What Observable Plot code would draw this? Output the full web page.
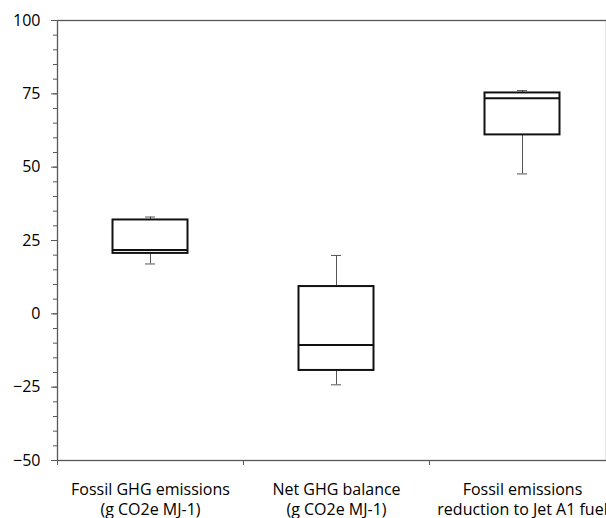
<!DOCTYPE html>
<html>
<head>
<meta charset="utf-8">
<script src="https://cdn.jsdelivr.net/npm/d3@7"></script>
<script src="https://cdn.jsdelivr.net/npm/@observablehq/plot@0.6"></script>
<style>
  html, body { margin: 0; padding: 0; background: #fff; overflow: hidden; }
  #chart svg { overflow: hidden; }
</style>
</head>
<body>
<div id="chart"></div>
<script>
const categories = [
  "Fossil GHG emissions\n(g CO2e MJ-1)",
  "Net GHG balance\n(g CO2e MJ-1)",
  "Fossil emissions\nreduction to Jet A1 fuel"
];
const whiskerMin = [17.0, -24.2, 47.7];
const quartile1 = [20.6, -19.3, 61.0];
const medians = [21.8, -10.6, 73.5];
const quartile3 = [32.0, 9.3, 75.3];
const whiskerMax = [33.0, 19.9, 76.1];
const majorTicks = [-50, -25, 0, 25, 50, 75, 100];
const minorTicks = d3.range(-50, 101, 5);

const data = categories.map((c, i) => ({
  cat: c, lo: whiskerMin[i], q1: quartile1[i], med: medians[i], q3: quartile3[i], hi: whiskerMax[i]
}));

const band = 186;
const boxInset = (band - 75) / 2;
const capInset = (band - 10) / 2;
const font = "'Open Sans', Lato, sans-serif";

const chart = Plot.plot({
  width: 606,
  height: 518,
  marginTop: 20,
  marginBottom: 58,
  marginLeft: 57,
  marginRight: 0,
  style: { fontFamily: font, fontSize: "16px", color: "#000", background: "#fff" },
  x: { domain: categories, range: [57, 57 + 3 * band], padding: 0, label: null },
  y: { domain: [-50, 100], label: null },
  marks: [
    Plot.axisY(minorTicks, { tickSize: 4, tickFormat: () => "", stroke: "#595959", label: null }),
    Plot.axisY(majorTicks, { tickSize: 6, tickPadding: 11, fontSize: 16, stroke: "#595959", fill: "#000", label: null }),
    Plot.axisX({ tickSize: 0, tickPadding: 20, fontSize: 16, lineHeight: 1.25, fill: "#000", label: null }),
    Plot.axisX({ tickSize: 5, tickFormat: () => "", dx: -band / 2, stroke: "#595959", label: null }),
    Plot.frame({ stroke: "#595959", strokeWidth: 1.3 }),
    Plot.ruleX(data, { x: "cat", y1: "lo", y2: "hi", stroke: "#555", strokeWidth: 1 }),
    Plot.tickY(data, { x: "cat", y: "lo", insetLeft: capInset, insetRight: capInset, stroke: "#555", strokeWidth: 1 }),
    Plot.tickY(data, { x: "cat", y: "hi", insetLeft: capInset, insetRight: capInset, stroke: "#555", strokeWidth: 1 }),
    Plot.barY(data, { x: "cat", y1: "q1", y2: "q3", insetLeft: boxInset, insetRight: boxInset, fill: "#fff", stroke: "#111", strokeWidth: 2 }),
    Plot.tickY(data, { x: "cat", y: "med", insetLeft: boxInset, insetRight: boxInset, stroke: "#111", strokeWidth: 2 })
  ]
});
document.getElementById("chart").appendChild(chart);
</script>
</body>
</html>
